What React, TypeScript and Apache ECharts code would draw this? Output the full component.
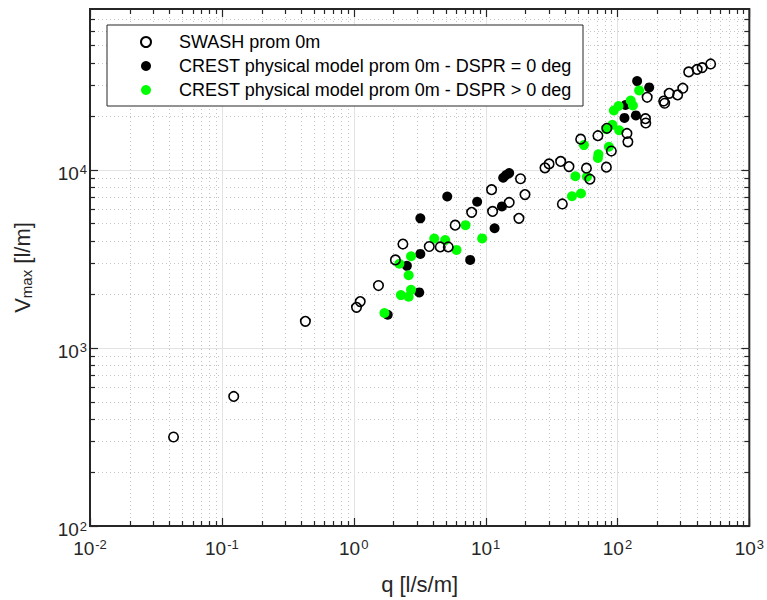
import React, { useEffect, useRef } from "react";
import * as echarts from "echarts";

// ---- data ----
const swashQ = [0.043, 0.123, 0.43, 1.05, 1.12, 1.54, 2.07, 2.36, 3.74, 4.53, 5.21, 5.88, 7.84, 11.1, 11.3, 15.1, 17.9, 18.4, 19.9, 28.2, 30.3, 37.1, 42.9, 38.2, 58.2, 61.8, 82.4, 89.9, 71.1, 52.6, 83.1, 118, 120, 163, 164, 168, 224, 228, 247, 286, 313, 347, 402, 439, 509];
const swashV = [316, 534, 1410, 1690, 1820, 2240, 3120, 3830, 3710, 3690, 3690, 4890, 5770, 7740, 5840, 6560, 5340, 8910, 7260, 10260, 10800, 11150, 10430, 6430, 10220, 8860, 10350, 12750, 15550, 14870, 17110, 16000, 14360, 19380, 18320, 25550, 24330, 23650, 26880, 26340, 28730, 35480, 36630, 37490, 39310];

const crest0Q = [1.81, 3.14, 2.53, 3.2, 3.2, 5.12, 7.64, 8.63, 11.7, 13.3, 13.6, 14.3, 15.1, 141, 174, 115, 113, 138];
const crest0V = [1535, 2050, 2890, 3370, 5340, 7080, 3120, 6620, 4700, 6230, 9030, 9350, 9590, 31510, 29030, 23120, 19570, 20210];

const crestDQ = [1.71, 2.28, 2.61, 2.72, 2.61, 2.22, 2.72, 4.08, 4.94, 6.02, 7.04, 9.42, 45.2, 52.9, 48.0, 58.7, 55.7, 71.7, 71.1, 86.1, 82.4, 91.5, 103, 102, 93.9, 126, 131, 146];
const crestDV = [1570, 1980, 1940, 2120, 2560, 2970, 3270, 4110, 4030, 3550, 4890, 4120, 7110, 7360, 9200, 9140, 13770, 12230, 11660, 13470, 16900, 17890, 16680, 22820, 21540, 24480, 22970, 27930];

const seriesNames = [
  "SWASH prom 0m",
  "CREST physical model prom 0m - DSPR = 0 deg",
  "CREST physical model prom 0m - DSPR > 0 deg",
];

const xMajorTicks = [0.01, 0.1, 1, 10, 100, 1000];
const yMajorTicks = [100, 1000, 10000];
const minorFactors = [2, 3, 4, 5, 6, 7, 8, 9];
const X_MIN = 0.01;
const X_MAX = 1000;
const Y_MIN = 100;
const Y_MAX = 80000;

const FONT = "'Liberation Sans', Arial, Helvetica, sans-serif";
const TXT = "#262626";

const zip = (a: number[], b: number[]) => a.map((v, i) => [v, b[i]]);

const supLabel = (v: number) => {
  const e = Math.log10(v);
  if (Math.abs(e - Math.round(e)) > 1e-6) return "";
  return `{b|10}{s|${Math.round(e)}}`;
};

const labelRich = {
  b: { fontSize: 19, lineHeight: 19, padding: [7, 0, 0, 0], fontFamily: FONT, color: TXT },
  s: { fontSize: 13, lineHeight: 13, padding: [3, 0, 0, 1], verticalAlign: "top", fontFamily: FONT, color: TXT },
};

const crisp = (v: number) => Math.round(v) + 0.5;

function renderFrame(_params: any, api: any) {
  const tl = api.coord([X_MIN, Y_MAX]);
  const br = api.coord([X_MAX, Y_MIN]);
  const left = tl[0], top = tl[1], right = br[0], bottom = br[1];
  const minorGrid: any[] = [];
  const majorGrid: any[] = [];
  const ticks: any[] = [];
  const minorStyle = { stroke: "#c4c4c4", lineWidth: 1, lineDash: [1, 3] };
  const majorStyle = { stroke: "#e3e3e3", lineWidth: 1 };
  const tickStyle = { stroke: TXT, lineWidth: 1.2 };
  const MAJ = 8, MIN = 5;

  const xMinor: number[] = [];
  xMajorTicks.slice(0, -1).forEach((d) => minorFactors.forEach((f) => xMinor.push(d * f)));
  const yMinor: number[] = [];
  yMajorTicks.forEach((d) => minorFactors.forEach((f) => { if (d * f < Y_MAX) yMinor.push(d * f); }));

  xMinor.forEach((v) => {
    const px = crisp(api.coord([v, Y_MIN])[0]);
    minorGrid.push({ type: "line", shape: { x1: px, y1: top, x2: px, y2: bottom }, style: minorStyle });
    ticks.push({ type: "line", shape: { x1: px, y1: bottom, x2: px, y2: bottom - MIN }, style: tickStyle });
    ticks.push({ type: "line", shape: { x1: px, y1: top, x2: px, y2: top + MIN }, style: tickStyle });
  });
  yMinor.forEach((v) => {
    const py = crisp(api.coord([X_MIN, v])[1]);
    minorGrid.push({ type: "line", shape: { x1: left, y1: py, x2: right, y2: py }, style: minorStyle });
    ticks.push({ type: "line", shape: { x1: left, y1: py, x2: left + MIN, y2: py }, style: tickStyle });
    ticks.push({ type: "line", shape: { x1: right, y1: py, x2: right - MIN, y2: py }, style: tickStyle });
  });
  xMajorTicks.forEach((v) => {
    const px = crisp(api.coord([v, Y_MIN])[0]);
    if (v !== X_MIN && v !== X_MAX) {
      majorGrid.push({ type: "line", shape: { x1: px, y1: top, x2: px, y2: bottom }, style: majorStyle });
    }
    ticks.push({ type: "line", shape: { x1: px, y1: bottom, x2: px, y2: bottom - MAJ }, style: tickStyle });
    ticks.push({ type: "line", shape: { x1: px, y1: top, x2: px, y2: top + MAJ }, style: tickStyle });
  });
  yMajorTicks.forEach((v) => {
    const py = crisp(api.coord([X_MIN, v])[1]);
    if (v !== Y_MIN) {
      majorGrid.push({ type: "line", shape: { x1: left, y1: py, x2: right, y2: py }, style: majorStyle });
    }
    ticks.push({ type: "line", shape: { x1: left, y1: py, x2: left + MAJ, y2: py }, style: tickStyle });
    ticks.push({ type: "line", shape: { x1: right, y1: py, x2: right - MAJ, y2: py }, style: tickStyle });
  });
  return { type: "group", children: [...minorGrid, ...majorGrid, ...ticks] };
}

export default function App() {
  const ref = useRef<HTMLDivElement>(null);
  useEffect(() => {
    if (!ref.current) return;
    const chart = echarts.init(ref.current, null, { renderer: "svg" });
    const option: any = {
      animation: false,
      backgroundColor: "#fff",
      grid: {
        left: 90, right: 16, top: 9, bottom: 70,
        show: true, borderColor: TXT, borderWidth: 2, backgroundColor: "transparent", z: 0,
      },
      xAxis: {
        type: "log", logBase: 10, min: X_MIN, max: X_MAX,
        axisLine: { show: false }, axisTick: { show: false }, splitLine: { show: false },
        axisLabel: { formatter: supLabel, rich: labelRich, margin: 9 },
        name: "q [l/s/m]", nameLocation: "middle", nameGap: 47,
        nameTextStyle: { fontSize: 22, fontFamily: FONT, color: TXT },
      },
      yAxis: {
        type: "log", logBase: 10, min: Y_MIN, max: Y_MAX,
        axisLine: { show: false }, axisTick: { show: false }, splitLine: { show: false },
        axisLabel: { formatter: supLabel, rich: labelRich, margin: 3 },
        name: "{v|V}{sub|max}{v| [l/m]}", nameLocation: "middle", nameGap: 50, nameRotate: 90,
        nameTextStyle: {
          fontFamily: FONT, color: TXT,
          rich: {
            v: { fontSize: 22, lineHeight: 24, padding: [0, 0, 12, 0], fontFamily: FONT, color: TXT },
            sub: { fontSize: 15, lineHeight: 15, padding: [0, 0, 6, 0], verticalAlign: "bottom", fontFamily: FONT, color: TXT },
          },
        },
      },
      legend: {
        data: seriesNames,
        orient: "vertical",
        left: 140, top: 33, padding: 0,
        itemWidth: 10, itemHeight: 10, itemGap: 6,
        textStyle: { fontSize: 18, fontFamily: FONT, color: "#000", padding: [0, 0, 0, 23] },
        z: 10,
      },
      graphic: [
        {
          type: "rect", z: 5, silent: true,
          shape: { x: 107, y: 25, width: 476, height: 81 },
          style: { fill: "#fff", stroke: TXT, lineWidth: 1 },
        },
      ],
      series: [
        {
          type: "custom", name: "frame", silent: true, z: 1, clip: false,
          data: [[1, 1000]], renderItem: renderFrame,
        },
        {
          name: seriesNames[1], type: "scatter", data: zip(crest0Q, crest0V),
          symbol: "circle", symbolSize: 10, itemStyle: { color: "#000", opacity: 1 }, z: 2,
        },
        {
          name: seriesNames[2], type: "scatter", data: zip(crestDQ, crestDV),
          symbol: "circle", symbolSize: 10, itemStyle: { color: "#00ff00", opacity: 1 }, z: 3,
        },
        {
          name: seriesNames[0], type: "scatter", data: zip(swashQ, swashV),
          symbol: "circle", symbolSize: 9.5,
          itemStyle: { color: "rgba(0,0,0,0)", borderColor: "#000", borderWidth: 1.6, opacity: 1 }, z: 4,
        },
      ],
    };
    chart.setOption(option);
    return () => chart.dispose();
  }, []);
  return (
    <div
      ref={ref}
      style={{ position: "fixed", left: 0, top: 0, width: 767, height: 600, background: "#fff" }}
    />
  );
}
